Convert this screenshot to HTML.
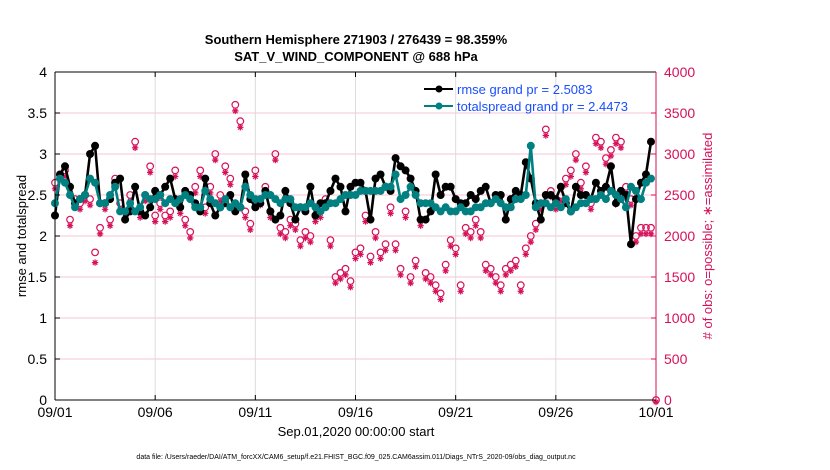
<!DOCTYPE html>
<html><head><meta charset="utf-8">
<style>
body{margin:0;background:#fff;}
svg{display:block;font-family:"Liberation Sans",Arial,sans-serif;}
</style></head>
<body>
<svg id="chart" width="830" height="470" viewBox="0 0 830 470">
  <g id="grid"></g>
  <g id="obs"></g>
  <g id="lines"></g>
  <g id="axes"></g>
  <text x="356" y="44" text-anchor="middle" font-size="13" font-weight="bold">Southern Hemisphere 271903 / 276439 = 98.359%</text>
  <text x="356" y="61" text-anchor="middle" font-size="13" font-weight="bold">SAT_V_WIND_COMPONENT @ 688 hPa</text>
  <text transform="translate(26,236) rotate(-90)" text-anchor="middle" font-size="13">rmse and totalspread</text>
  <text transform="translate(712,236) rotate(-90)" text-anchor="middle" font-size="13" fill="#d6115a"># of obs: o=possible; &#8727;=assimilated</text>
  <text x="356" y="436" text-anchor="middle" font-size="13">Sep.01,2020 00:00:00 start</text>
  <text x="356" y="459" text-anchor="middle" font-size="7">data file: /Users/raeder/DAI/ATM_forcXX/CAM6_setup/f.e21.FHIST_BGC.f09_025.CAM6assim.011/Diags_NTrS_2020-09/obs_diag_output.nc</text>
  <g>
    <line x1="424" y1="89" x2="453" y2="89" stroke="#000" stroke-width="2"/>
    <circle cx="439" cy="89" r="3.5" fill="#000"/>
    <text x="457" y="94" font-size="13" fill="#1a4fff">rmse grand pr = 2.5083</text>
    <line x1="424" y1="106" x2="453" y2="106" stroke="#008080" stroke-width="2"/>
    <circle cx="439" cy="106" r="3.5" fill="#008080"/>
    <text x="457" y="111" font-size="13" fill="#1a4fff">totalspread grand pr = 2.4473</text>
  </g>
</svg>
<script>
const xTickLabels = ["09/01","09/06","09/11","09/16","09/21","09/26","10/01"];
const xTickDays = [0,5,10,15,20,25,30];
const yTicks = [0,0.5,1,1.5,2,2.5,3,3.5,4];
const y2Ticks = [0,500,1000,1500,2000,2500,3000,3500,4000];
const rmse = [2.25,2.75,2.85,2.6, 2.4,2.45,2.5,3.0, 3.1,2.4,2.4,2.45, 2.65,2.7,2.2,2.3,
 2.6,2.3,2.25,2.35, 2.55,2.5,2.6,2.7, 2.45,2.35,2.55,2.5, 2.4,2.3,2.7,2.4,
 2.25,2.35,2.4,2.5, 2.3,2.35,2.75,2.45, 2.35,2.4,2.55,2.3, 2.2,2.25,2.55,2.4,
 2.2,2.35,2.3,2.6, 2.25,2.4,2.4,2.55, 2.7,2.6,2.3,2.6, 2.65,2.65,2.55,2.2,
 2.7,2.75,2.6,2.55, 2.95,2.85,2.8,2.7, 2.55,2.2,2.2,2.3, 2.75,2.5,2.6,2.6,
 2.45,2.4,2.4,2.5, 2.45,2.55,2.6,2.4, 2.5,2.5,2.2,2.45, 2.55,2.5,2.9,2.7,
 2.4,2.2,2.5,2.5, 2.45,2.6,2.4,2.3, 2.6,2.5,2.5,2.45, 2.65,2.55,2.6,2.85,
 2.4,2.55,2.5,1.9, 2.45,2.65,2.75,3.15];
const spread = [2.4,2.7,2.65,2.5, 2.35,2.45,2.5,2.7, 2.65,2.4,2.4,2.5, 2.6,2.3,2.3,2.4,
 2.3,2.35,2.5,2.45, 2.45,2.5,2.4,2.45, 2.4,2.45,2.5,2.45, 2.35,2.35,2.55,2.45,
 2.4,2.35,2.45,2.35, 2.4,2.35,2.6,2.5, 2.45,2.45,2.5,2.5, 2.45,2.4,2.45,2.45,
 2.35,2.35,2.35,2.4, 2.35,2.3,2.35,2.4, 2.4,2.45,2.5,2.5, 2.5,2.55,2.55,2.55,
 2.55,2.55,2.6,2.6, 2.75,2.45,2.5,2.6, 2.5,2.4,2.4,2.4, 2.35,2.3,2.35,2.3,
 2.3,2.35,2.3,2.3, 2.35,2.35,2.4,2.4, 2.45,2.4,2.35,2.35, 2.45,2.45,2.5,3.1,
 2.35,2.4,2.4,2.35, 2.4,2.35,2.45,2.3, 2.35,2.4,2.4,2.45, 2.45,2.5,2.45,2.55,
 2.5,2.45,2.35,2.6, 2.55,2.45,2.65,2.7];
const obsPossible = [2650,2750,2800,2200, 2450,2400,2500,2450, 1800,2100,2400,2200, 2700,2400,2300,2500,
 3150,2300,2500,2850, 2250,2400,2250,2300, 2800,2350,2200,2050, 2600,2800,2350,2600,
 3000,2500,2850,2700, 3600,3400,2300,2150, 2800,2450,2600,2300, 3000,2100,2050,2200,
 2150,1950,2050,2000, 2250,2300,2450,1950, 1500,1550,1600,1450, 1800,1850,2250,1750,
 2050,1800,1900,2350, 1900,1600,2300,1500, 1700,2200,1550,1500, 1400,1300,1650,1950,
 1850,1400,2100,2050, 2200,2050,1650,1600, 1500,1400,1600,1650, 1700,1400,1850,2000,
 2150,2400,3300,2550, 2400,2500,2700,2800, 3000,2650,2850,2400, 3200,3150,2950,3050,
 3200,3150,2600,2450, 2000,2100,2100,2100, 0];
const obsAssim = [2600,2700,2750,2150, 2400,2350,2450,2400, 1700,2050,2350,2150, 2650,2350,2250,2450,
 3100,2250,2450,2800, 2200,2350,2200,2250, 2750,2300,2150,2000, 2550,2750,2300,2550,
 2950,2450,2800,2650, 3550,3350,2250,2100, 2750,2400,2550,2250, 2950,2050,2000,2150,
 2100,1900,2000,1950, 2200,2250,2400,1900, 1450,1500,1550,1400, 1750,1800,2200,1700,
 2000,1750,1850,2300, 1850,1550,2250,1450, 1650,2150,1500,1450, 1350,1250,1600,1900,
 1800,1350,2050,2000, 2150,2000,1600,1550, 1450,1350,1550,1600, 1650,1350,1800,1950,
 2100,2350,3250,2500, 2350,2450,2650,2750, 2950,2600,2800,2350, 3150,3100,2900,3000,
 3150,3100,2550,2400, 1950,2050,2050,2050, 0];

const NS="http://www.w3.org/2000/svg";
const L=55,R=656,T=72,B=400;
const xDay=d=>L+(R-L)*d/30;
const yV=v=>B-(B-T)*v/4;
const y2V=v=>B-(B-T)*v/4000;
function mk(tag,attrs,parent){const e=document.createElementNS(NS,tag);for(const k in attrs)e.setAttribute(k,attrs[k]);parent.appendChild(e);return e;}
const grid=document.getElementById('grid'),axes=document.getElementById('axes'),obs=document.getElementById('obs'),lines=document.getElementById('lines');

yTicks.forEach((v,i)=>{
  if(i>0&&i<yTicks.length-1){const g=mk('line',{x1:L,x2:R,y1:yV(v),y2:yV(v),stroke:'#f3c6d6','stroke-width':1},grid);
  
  }
  const t=mk('line',{x1:L,x2:L+5,y1:yV(v),y2:yV(v),stroke:'#000'},axes);
  
  
  const lb=mk('text',{x:L-8,y:yV(v)+5,'text-anchor':'end','font-size':14},axes);lb.textContent=v;
  
  
});
y2Ticks.forEach(v=>{
  const t=mk('line',{x1:R-5,x2:R,y1:y2V(v),y2:y2V(v),stroke:'#d6115a'},axes);
  
  
  const lb=mk('text',{x:R+8,y:y2V(v)+5,'font-size':14,fill:'#d6115a'},axes);lb.textContent=v;
  
  
});
xTickDays.forEach((d,i)=>{
  if(i>0&&i<xTickDays.length-1){const g=mk('line',{x1:xDay(d),x2:xDay(d),y1:T,y2:B,stroke:'#dcdcdc','stroke-width':1},grid);
  
  }
  mk('line',{x1:xDay(d),x2:xDay(d),y1:B,y2:B-5,stroke:'#000'},axes);
  mk('line',{x1:xDay(d),x2:xDay(d),y1:T,y2:T+5,stroke:'#000'},axes);
  const lb=mk('text',{x:xDay(d),y:B+17,'text-anchor':'middle','font-size':14},axes);lb.textContent=xTickLabels[i];
  
  
});
mk('line',{x1:L,x2:R,y1:T,y2:T,stroke:'#000'},axes);
mk('line',{x1:L,x2:R,y1:B,y2:B,stroke:'#000'},axes);
mk('line',{x1:L,x2:L,y1:T,y2:B,stroke:'#000'},axes);
mk('line',{x1:R,x2:R,y1:T,y2:B,stroke:'#d6115a'},axes);

obsPossible.forEach((v,i)=>{
  const c=mk('circle',{cx:xDay(i/4),cy:y2V(v),r:3.3,fill:'none',stroke:'#d6115a','stroke-width':1.2},obs);
  
  
});
obsAssim.forEach((v,i)=>{
  const cx=xDay(i/4),cy=y2V(v)+2,r=3.2;
  const d=`M${cx-r},${cy}H${cx+r}M${cx},${cy-r}V${cy+r}M${cx-r*0.7},${cy-r*0.7}L${cx+r*0.7},${cy+r*0.7}M${cx-r*0.7},${cy+r*0.7}L${cx+r*0.7},${cy-r*0.7}`;
  const s=mk('path',{d:d,stroke:'#d6115a','stroke-width':1.2,fill:'none'},obs);
  
  
});

function series(arr,color,name){
  const pts=arr.map((v,i)=>xDay(i/4)+','+yV(v)).join(' ');
  const pl=mk('polyline',{points:pts,fill:'none',stroke:color,'stroke-width':2.6},lines);
  
  
  arr.forEach((v,i)=>{
    const c=mk('circle',{cx:xDay(i/4),cy:yV(v),r:4,fill:color},lines);
    
    
  });
}
series(rmse,'#000','rmse');
series(spread,'#008080','totalspread');
</script>
</body></html>
